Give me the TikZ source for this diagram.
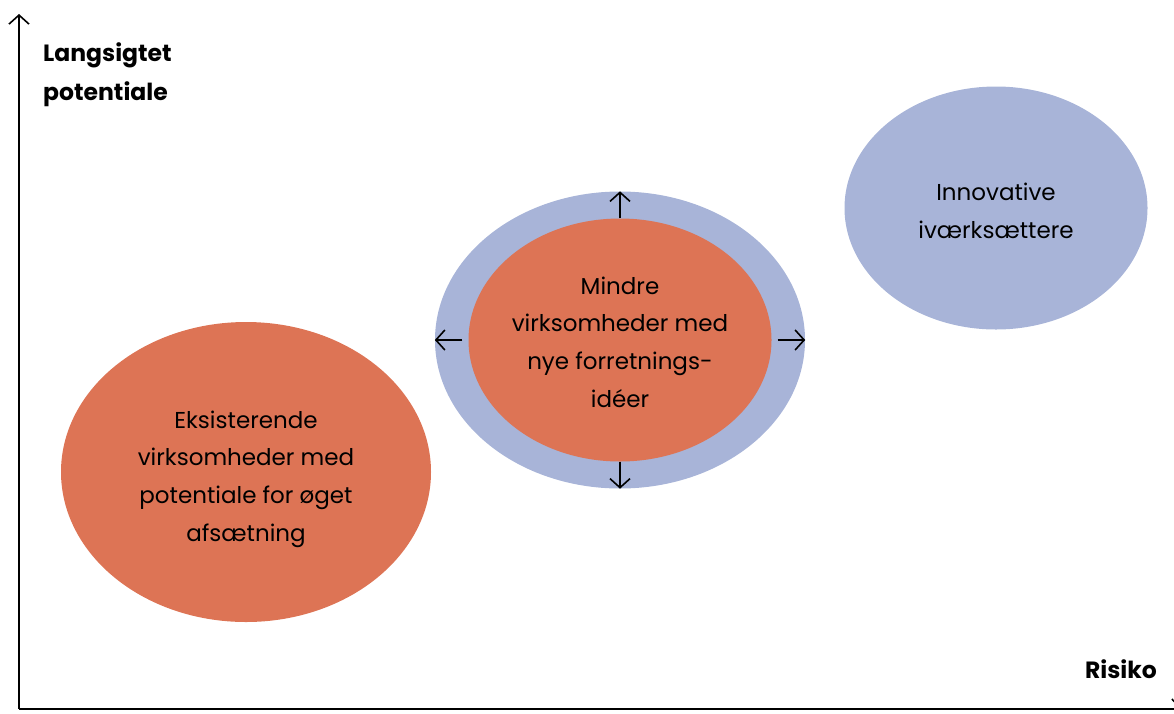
\documentclass[tikz,border=0pt]{standalone}
\usepackage{fontspec}
\setmainfont{Poppins}
\usetikzlibrary{shapes.geometric,arrows.meta}
\definecolor{orng}{RGB}{221,116,85}
\definecolor{lblue}{RGB}{168,180,216}
\tikzset{
  blob/.style={ellipse, draw=none, inner sep=0pt},
  body/.style={align=center, font=\fontsize{23}{37.7}\selectfont, text=black},
  axislabel/.style={align=left, font=\fontsize{23.5}{39}\selectfont\bfseries, text=black, inner sep=0pt},
  axisline/.style={line width=2.2pt, -{Straight Barb[length=9pt,width=20pt,line width=1.6pt]}},
  growarrow/.style={line width=1.8pt, -{Straight Barb[length=9pt,width=20pt,line width=1.6pt]}}
}
\begin{document}
\begin{tikzpicture}[x=1pt,y=-1pt]
\useasboundingbox (0,0) rectangle (1174,713);
\coordinate (origin) at (19,709);
\coordinate (ytip) at (19,14);
\coordinate (xtip) at (1182,709);
\draw[axisline] (origin) -- (ytip);
\draw[axisline] (origin) -- (xtip);
\node[axislabel, anchor=north west] (ylab) at (43,42) {Langsigtet\\potentiale};
\node[axislabel, anchor=north east] (xlab) at (1157,659) {Risiko};

\node[blob, fill=orng, minimum width=370pt, minimum height=300pt,
  label={[body, yshift=-7pt]center:Eksisterende\\virksomheder med\\potentiale for øget\\afsætning}] (eks) at (246,472) {};
\node[blob, fill=lblue, minimum width=370pt, minimum height=297pt] (outer) at (620,340) {};
\node[blob, fill=orng, minimum width=303pt, minimum height=243pt,
  label={[body, yshift=-2pt]center:Mindre\\virksomheder med\\nye forretnings-\\idéer}] (inner) at (620,340) {};
\node[blob, fill=lblue, minimum width=303pt, minimum height=243pt,
  label={[body, yshift=-3pt]center:Innovative\\iværksættere}] (innov) at (996,208) {};

\draw[growarrow] (inner.north) -- (outer.north);
\draw[growarrow] (inner.south) -- (outer.south);
\draw[growarrow] ([xshift=-6pt]inner.west) -- (outer.west);
\draw[growarrow] ([xshift=6pt]inner.east) -- (outer.east);
\end{tikzpicture}
\end{document}
